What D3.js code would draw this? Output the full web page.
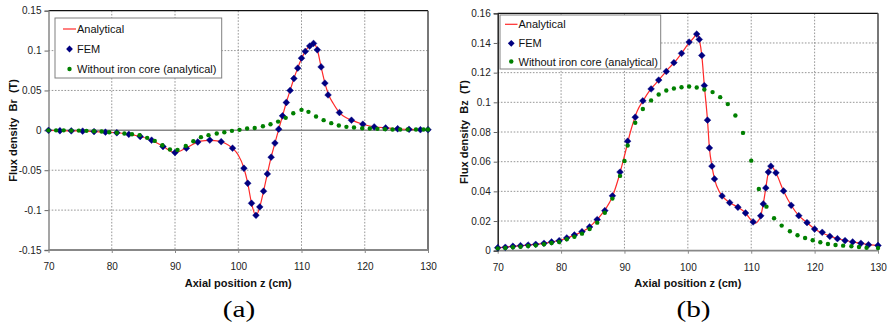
<!DOCTYPE html>
<html>
<head>
<meta charset="utf-8">
<script src="https://cdn.jsdelivr.net/npm/d3@7"></script>
<style>
  body { margin: 0; background: #fff; }
  svg { display: block; }
  text { font-family: "Liberation Sans", Arial, sans-serif; }
  text.caption { font-family: "Liberation Serif", "Times New Roman", serif; }
</style>
</head>
<body>
<div id="fig"></div>
<script>
// ---- data ----
const xTicks = [70, 80, 90, 100, 110, 120, 130];
const yTicksA = [-0.15, -0.1, -0.05, 0, 0.05, 0.1, 0.15];
const yTicksB = [0, 0.02, 0.04, 0.06, 0.08, 0.1, 0.12, 0.14, 0.16];
const seriesNames = ["Analytical", "FEM", "Without iron core (analytical)"];

// (a) radial component Br
const a_ana_z = [70, 72, 74, 76, 78, 80, 82, 84, 86, 88, 90, 92, 94, 95.5, 97, 98, 99.1, 100, 100.9, 101.5, 102.1, 102.8, 103.4, 104, 104.6, 105.2, 105.8, 106.4, 107, 107.6, 108.2, 108.8, 109.4, 110, 110.6, 111.2, 111.9, 112.5, 113.1, 113.7, 114.3, 115, 116, 117, 118, 119.7, 121.5, 123.4, 125, 127, 130];
const a_ana_B = [0, -0.0005, -0.0007, -0.0011, -0.0018, -0.0026, -0.004, -0.0068, -0.0115, -0.0195, -0.028, -0.021, -0.0135, -0.0125, -0.0135, -0.0165, -0.0224, -0.031, -0.0475, -0.0663, -0.0914, -0.107, -0.096, -0.0763, -0.0546, -0.0336, -0.016, 0.0015, 0.0182, 0.0349, 0.05, 0.065, 0.078, 0.09, 0.099, 0.1055, 0.109, 0.101, 0.0795, 0.0592, 0.0444, 0.034, 0.0223, 0.016, 0.0125, 0.0077, 0.0045, 0.003, 0.002, 0.0013, 0.0008];

const a_fem_z = [70, 71.8, 73.6, 75.4, 77.2, 79, 80.8, 82.7, 84.5, 86.3, 88.1, 90, 91.8, 93.6, 95.5, 97.3, 99.1, 100.9, 101.5, 102.1, 102.8, 103.4, 104, 104.6, 105.2, 105.8, 106.4, 107, 107.6, 108.2, 108.8, 109.4, 110, 110.6, 111.3, 111.9, 112.5, 113.1, 113.7, 114.2, 116, 117.9, 119.7, 121.5, 123.3, 125.2, 127, 128.8, 130];
const a_fem_B = [0, -0.0005, -0.0006, -0.001, -0.0015, -0.0023, -0.003, -0.005, -0.0077, -0.0123, -0.0203, -0.0279, -0.0224, -0.0146, -0.0122, -0.0142, -0.0224, -0.0475, -0.0663, -0.0914, -0.1065, -0.096, -0.0763, -0.0546, -0.0336, -0.016, 0.0015, 0.0182, 0.0349, 0.05, 0.065, 0.078, 0.0905, 0.099, 0.1057, 0.109, 0.101, 0.0795, 0.0592, 0.0444, 0.0223, 0.0127, 0.0077, 0.0043, 0.003, 0.002, 0.0013, 0.0008, 0.0008];

const a_air_z = [70, 71.2, 72.4, 73.6, 74.8, 76, 77.2, 78.4, 79.6, 80.8, 82, 83.2, 84.4, 85.6, 86.8, 88, 89.2, 90.4, 91.7, 92.9, 94.1, 95.3, 96.6, 97.8, 99, 100.2, 101.4, 102.6, 103.9, 105.1, 106.3, 107.5, 108.7, 110, 111.1, 112.3, 113.5, 114.7, 115.9, 117.1, 118.3, 119.6, 120.8, 122, 123.2, 124.4, 125.6, 126.8, 128.1, 129.3, 130];
const a_air_B = [0, 0, 0, -0.0003, -0.0003, -0.0006, -0.001, -0.0015, -0.0023, -0.0031, -0.004, -0.0048, -0.006, -0.0094, -0.0132, -0.0186, -0.0241, -0.0245, -0.0195, -0.0136, -0.0085, -0.006, -0.004, -0.0023, -0.0006, 0.0006, 0.0023, 0.003, 0.0052, 0.0077, 0.011, 0.0157, 0.0215, 0.0257, 0.0232, 0.0174, 0.0128, 0.009, 0.006, 0.0044, 0.0035, 0.0027, 0.0023, 0.0019, 0.0015, 0.001, 0.001, 0.001, 0.001, 0.001, 0.001];

// (b) axial component Bz
const b_ana_z = [70, 72, 74, 76, 78, 80, 82, 84, 86, 87, 88, 89, 90, 91, 92, 93, 94, 95, 96, 97, 98, 99, 100, 101, 101.4, 101.8, 102.2, 102.6, 103.1, 103.4, 103.8, 104.2, 105, 105.4, 106.6, 107.9, 109.1, 110, 110.7, 111.1, 111.5, 111.9, 112.3, 112.7, 113.1, 113.5, 113.9, 115.1, 116.3, 117.5, 118.8, 120, 122, 124, 126, 128, 130];
const b_ana_B = [0.002, 0.0027, 0.0035, 0.0043, 0.0055, 0.0072, 0.0103, 0.0145, 0.0225, 0.028, 0.0355, 0.048, 0.064, 0.081, 0.094, 0.1015, 0.108, 0.113, 0.118, 0.123, 0.1275, 0.133, 0.139, 0.144, 0.1465, 0.1425, 0.1316, 0.1113, 0.088, 0.0693, 0.057, 0.0484, 0.0395, 0.0369, 0.0324, 0.0293, 0.0254, 0.0205, 0.0185, 0.02, 0.0235, 0.0315, 0.0423, 0.053, 0.0572, 0.0555, 0.0525, 0.0403, 0.0306, 0.0236, 0.0189, 0.0146, 0.0105, 0.0077, 0.0059, 0.0044, 0.0035];

const b_fem_z = [70, 71.2, 72.4, 73.6, 74.8, 76, 77.3, 78.5, 79.7, 80.9, 82.1, 83.3, 84.5, 85.7, 86.9, 88.1, 89.3, 90.5, 91.7, 92.9, 94.2, 95.4, 96.6, 97.8, 99, 100.2, 101.4, 101.8, 102.2, 102.6, 103.1, 103.4, 103.8, 104.2, 105.4, 106.6, 107.9, 109.1, 110.3, 111.5, 111.9, 112.3, 112.7, 113.1, 113.9, 115.1, 116.3, 117.5, 118.8, 120, 121.2, 122.4, 123.6, 124.8, 126, 127.3, 128.5, 130];
const b_fem_B = [0.002, 0.0023, 0.003, 0.0034, 0.0038, 0.0043, 0.005, 0.0059, 0.0067, 0.0086, 0.0106, 0.0128, 0.016, 0.021, 0.027, 0.037, 0.053, 0.0738, 0.09, 0.101, 0.109, 0.115, 0.1208, 0.1267, 0.133, 0.1406, 0.146, 0.1424, 0.1316, 0.1113, 0.088, 0.0693, 0.057, 0.0484, 0.0369, 0.0324, 0.0293, 0.0254, 0.0194, 0.0235, 0.0315, 0.0423, 0.053, 0.057, 0.0525, 0.0403, 0.0306, 0.0236, 0.0189, 0.0146, 0.0124, 0.0097, 0.0081, 0.0068, 0.0059, 0.005, 0.004, 0.0035];

const b_air_z = [70, 71.2, 72.4, 73.6, 74.8, 76, 77.3, 78.5, 79.7, 80.9, 82.1, 83.3, 84.5, 85.7, 86.9, 88.1, 89.3, 90, 90.5, 91.7, 92.9, 94.2, 95.4, 96.6, 97.8, 99, 100.2, 101.4, 102.6, 103.9, 105.1, 106.3, 107.5, 108.7, 110, 111.2, 112.4, 113.6, 114.8, 116.1, 117.3, 118.5, 119.7, 120.9, 122.1, 123.3, 124.5, 125.8, 127, 128.2, 130];
const b_air_B = [0.0016, 0.0018, 0.0023, 0.0027, 0.0032, 0.0036, 0.0043, 0.0052, 0.0059, 0.0077, 0.0094, 0.0115, 0.0146, 0.0189, 0.0256, 0.0351, 0.0504, 0.0605, 0.0709, 0.0862, 0.0955, 0.1013, 0.1053, 0.108, 0.1093, 0.1102, 0.1107, 0.11, 0.1086, 0.1069, 0.1035, 0.0988, 0.0911, 0.0794, 0.0607, 0.0416, 0.0297, 0.0219, 0.0169, 0.0131, 0.0104, 0.0086, 0.007, 0.0057, 0.0045, 0.0038, 0.0034, 0.003, 0.0025, 0.002, 0.0018];

// ---- layout ----
const W = 889, H = 326;
const red = "#ff2a2a", navy = "#000080", green = "#008000";

const cfgA = {
  left: 48.5, right: 428, top: 10.7, bottom: 250,
  yDomain: [-0.15, 0.15], yTicks: yTicksA, zeroLine: true,
  leftAxisColor: "#888",
  yTitle: "Flux density  Br  (T)", yTitleX: 16.5,
  legend: {x: 55, y: 18, w: 166.7, h: 60, rows: [29, 49, 69], sx: 63, tx: 77},
  caption: "(a)", capX: 239,
  ana: [a_ana_z, a_ana_B], fem: [a_fem_z, a_fem_B], air: [a_air_z, a_air_B]
};
const cfgB = {
  left: 497.7, right: 878, top: 13.3, bottom: 250.7,
  yDomain: [0, 0.16], yTicks: yTicksB, zeroLine: false,
  leftAxisColor: "#222",
  yTitle: "Flux density  Bz  (T)", yTitleX: 468,
  legend: {x: 500, y: 15, w: 160.7, h: 54, rows: [24.3, 43.3, 61.5], sx: 505, tx: 518.5},
  caption: "(b)", capX: 693.5,
  ana: [b_ana_z, b_ana_B], fem: [b_fem_z, b_fem_B], air: [b_air_z, b_air_B]
};

const svg = d3.select("#fig").append("svg")
  .attr("width", W).attr("height", H)
  .attr("viewBox", [0, 0, W, H]);
svg.append("rect").attr("width", W).attr("height", H).attr("fill", "#fff");

make_chart(svg, cfgA);
make_chart(svg, cfgB);

function diamond(r) {
  return `M0,${-r}L${r},0L0,${r}L${-r},0Z`;
}

function make_chart(parent, cfg) {
  const g = parent.append("g");
  const x = d3.scaleLinear([70, 130], [cfg.left, cfg.right]);
  const y = d3.scaleLinear(cfg.yDomain, [cfg.bottom, cfg.top]);
  const fmt = d => String(+d.toFixed(2));

  // gridlines (dotted)
  g.append("g").selectAll("line")
    .data(xTicks.slice(1, -1))
    .join("line")
    .attr("x1", d => x(d)).attr("x2", d => x(d))
    .attr("y1", cfg.top).attr("y2", cfg.bottom)
    .attr("stroke", "#8a8a8a").attr("stroke-width", 0.9)
    .attr("stroke-dasharray", "1.6,1.6");
  g.append("g").selectAll("line")
    .data(cfg.yTicks.slice(1, -1).filter(d => !(cfg.zeroLine && d === 0)))
    .join("line")
    .attr("x1", cfg.left).attr("x2", cfg.right)
    .attr("y1", d => y(d)).attr("y2", d => y(d))
    .attr("stroke", "#8a8a8a").attr("stroke-width", 0.9)
    .attr("stroke-dasharray", "1.6,1.6");

  // plot area border
  g.append("line").attr("x1", cfg.left).attr("x2", cfg.right)
    .attr("y1", cfg.top).attr("y2", cfg.top)
    .attr("stroke", "#111").attr("stroke-width", 1.3);
  g.append("line").attr("x1", cfg.right).attr("x2", cfg.right)
    .attr("y1", cfg.top).attr("y2", cfg.bottom)
    .attr("stroke", "#555").attr("stroke-width", 1.6);
  g.append("line").attr("x1", cfg.left).attr("x2", cfg.right)
    .attr("y1", cfg.bottom).attr("y2", cfg.bottom)
    .attr("stroke", "#888").attr("stroke-width", 1.8);
  if (cfg.zeroLine) {
    g.append("line").attr("x1", cfg.left).attr("x2", cfg.right)
      .attr("y1", y(0)).attr("y2", y(0))
      .attr("stroke", "#888").attr("stroke-width", 1.5);
  }

  // axes
  const yAxis = d3.axisLeft(y).tickValues(cfg.yTicks).tickSize(4).tickPadding(3).tickFormat(fmt);
  const xAxis = d3.axisBottom(x).tickValues(xTicks).tickSize(3).tickPadding(10).tickFormat(d3.format("d"));

  const ya = g.append("g").attr("transform", `translate(${cfg.left},0)`).call(yAxis);
  ya.select(".domain").attr("stroke", cfg.leftAxisColor).attr("stroke-width", 1.5);
  ya.selectAll(".tick line").attr("stroke", "#666");
  ya.selectAll("text").attr("font-size", 10).attr("fill", "#222")
    .attr("font-family", "'Liberation Sans', Arial, sans-serif");

  const xa = g.append("g").attr("transform", `translate(0,${cfg.bottom})`).call(xAxis);
  xa.select(".domain").remove();
  xa.selectAll(".tick line").attr("stroke", "#888");
  xa.selectAll("text").attr("font-size", 10).attr("fill", "#222")
    .attr("font-family", "'Liberation Sans', Arial, sans-serif");

  // titles
  g.append("text")
    .attr("x", (cfg.left + cfg.right) / 2).attr("y", 287)
    .attr("text-anchor", "middle").attr("font-size", 11).attr("font-weight", "bold")
    .attr("fill", "#111")
    .text("Axial position z (cm)");
  g.append("text")
    .attr("transform", `translate(${cfg.yTitleX},${(cfg.top + cfg.bottom) / 2}) rotate(-90)`)
    .attr("text-anchor", "middle").attr("font-size", 11).attr("font-weight", "bold")
    .attr("fill", "#111").style("white-space", "pre").attr("xml:space", "preserve")
    .text(cfg.yTitle);
  g.append("text")
    .attr("class", "caption")
    .attr("transform", `translate(${cfg.capX},316.5) scale(1.22,1)`)
    .attr("text-anchor", "middle").attr("font-size", 24)
    .attr("fill", "#000")
    .text(cfg.caption);

  // series
  const ana = d3.zip(cfg.ana[0], cfg.ana[1]);
  const fem = d3.zip(cfg.fem[0], cfg.fem[1]);
  const air = d3.zip(cfg.air[0], cfg.air[1]);

  const line = d3.line()
    .x(d => x(d[0]))
    .y(d => y(d[1]))
    .curve(d3.curveMonotoneX);

  g.append("path").datum(ana)
    .attr("d", line)
    .attr("fill", "none").attr("stroke", red).attr("stroke-width", 1.2);

  g.append("g").selectAll("path")
    .data(fem).join("path")
    .attr("d", diamond(3.4))
    .attr("transform", d => `translate(${x(d[0])},${y(d[1])})`)
    .attr("fill", navy).attr("stroke", navy).attr("stroke-width", 0.4);

  g.append("g").selectAll("circle")
    .data(air).join("circle")
    .attr("cx", d => x(d[0])).attr("cy", d => y(d[1]))
    .attr("r", 2.2).attr("fill", green);

  // legend
  const lg = cfg.legend;
  const leg = g.append("g");
  leg.append("rect")
    .attr("x", lg.x).attr("y", lg.y).attr("width", lg.w).attr("height", lg.h)
    .attr("fill", "#fff").attr("stroke", "#808080").attr("stroke-width", 1);
  leg.append("line")
    .attr("x1", lg.sx).attr("x2", lg.tx - 1)
    .attr("y1", lg.rows[0]).attr("y2", lg.rows[0])
    .attr("stroke", red).attr("stroke-width", 1.2);
  leg.append("path")
    .attr("d", diamond(3.4))
    .attr("transform", `translate(${(lg.sx + lg.tx) / 2 - 0.5},${lg.rows[1]})`)
    .attr("fill", navy);
  leg.append("circle")
    .attr("cx", (lg.sx + lg.tx) / 2 - 0.5).attr("cy", lg.rows[2])
    .attr("r", 2.2).attr("fill", green);
  leg.selectAll("text")
    .data(seriesNames).join("text")
    .attr("x", lg.tx).attr("y", (d, i) => lg.rows[i] + 4)
    .attr("font-size", 11).attr("fill", "#111")
    .text(d => d);
}
</script>
</body>
</html>
